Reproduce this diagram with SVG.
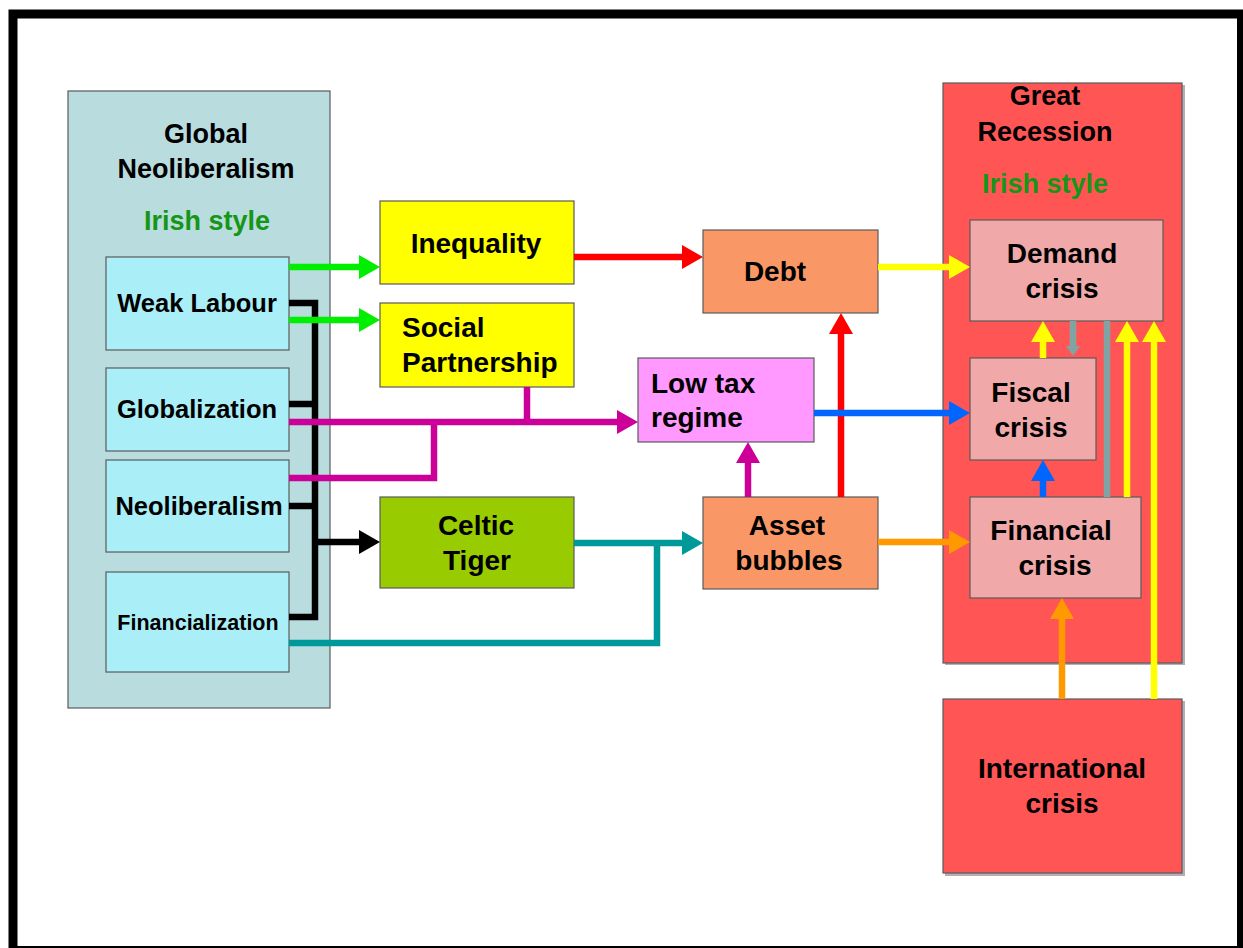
<svg xmlns="http://www.w3.org/2000/svg" width="1243" height="948" viewBox="0 0 1243 948">
<style>
.box{stroke:#5a5a5a;stroke-width:1.2}
.t{font-family:"Liberation Sans",Arial,sans-serif;font-weight:bold;fill:#000}
.c{text-anchor:middle}
.g{fill:#169616}
.ln{fill:none;stroke-width:6.5;stroke-linejoin:miter}
</style>
<defs>
<marker id="aG" markerUnits="userSpaceOnUse" markerWidth="22" markerHeight="24" refX="9" refY="12" orient="auto"><path d="M0,0 L21,12 L0,24 Z" fill="#00ee00"/></marker>
<marker id="aK" markerUnits="userSpaceOnUse" markerWidth="22" markerHeight="24" refX="9" refY="12" orient="auto"><path d="M0,0 L21,12 L0,24 Z" fill="#000"/></marker>
<marker id="aM" markerUnits="userSpaceOnUse" markerWidth="22" markerHeight="24" refX="9" refY="12" orient="auto"><path d="M0,0 L21,12 L0,24 Z" fill="#cc0099"/></marker>
<marker id="aT" markerUnits="userSpaceOnUse" markerWidth="22" markerHeight="24" refX="9" refY="12" orient="auto"><path d="M0,0 L21,12 L0,24 Z" fill="#009999"/></marker>
<marker id="aR" markerUnits="userSpaceOnUse" markerWidth="22" markerHeight="24" refX="9" refY="12" orient="auto"><path d="M0,0 L21,12 L0,24 Z" fill="#ff0000"/></marker>
<marker id="aY" markerUnits="userSpaceOnUse" markerWidth="22" markerHeight="24" refX="9" refY="12" orient="auto"><path d="M0,0 L21,12 L0,24 Z" fill="#ffff00"/></marker>
<marker id="aB" markerUnits="userSpaceOnUse" markerWidth="22" markerHeight="24" refX="9" refY="12" orient="auto"><path d="M0,0 L21,12 L0,24 Z" fill="#0066ff"/></marker>
<marker id="aO" markerUnits="userSpaceOnUse" markerWidth="22" markerHeight="24" refX="9" refY="12" orient="auto"><path d="M0,0 L21,12 L0,24 Z" fill="#ff9900"/></marker>
<marker id="aS" markerUnits="userSpaceOnUse" markerWidth="12" markerHeight="14" refX="4" refY="7" orient="auto"><path d="M0,0 L10,7 L0,14 Z" fill="#80a4a4"/></marker>
</defs>
<rect x="0" y="0" width="1243" height="948" fill="#fff"/>
<rect x="13" y="14" width="1228.5" height="936.5" fill="none" stroke="#000" stroke-width="9"/>

<g id="global-neoliberalism">
<rect class="box" x="68" y="91" width="262" height="617" fill="#b9dcdf"/>
<text class="t c" x="206" y="143" font-size="27">Global</text>
<text class="t c" x="206" y="178" font-size="27">Neoliberalism</text>
<text class="t c g" x="207" y="230" font-size="27">Irish style</text>
</g>
<g id="weak-labour">
<rect class="box" x="106" y="257" width="183" height="93" fill="#aaeff7"/>
<text class="t c" x="197" y="312" font-size="25.5">Weak Labour</text>
</g>
<g id="globalization">
<rect class="box" x="106" y="368" width="183" height="83" fill="#aaeff7"/>
<text class="t c" x="197" y="418" font-size="25.5">Globalization</text>
</g>
<g id="neoliberalism">
<rect class="box" x="106" y="460" width="183" height="92" fill="#aaeff7"/>
<text class="t c" x="199" y="515" font-size="25.5">Neoliberalism</text>
</g>
<g id="financialization">
<rect class="box" x="106" y="572" width="183" height="100" fill="#aaeff7"/>
<text class="t c" x="198" y="630" font-size="21.5">Financialization</text>
</g>

<g id="inequality">
<rect class="box" x="380" y="201" width="194" height="83" fill="#ffff00"/>
<text class="t c" x="476" y="253" font-size="28">Inequality</text>
</g>
<g id="social-partnership">
<rect class="box" x="380" y="303" width="194" height="84" fill="#ffff00"/>
<text class="t" x="402" y="337" font-size="28">Social</text>
<text class="t" x="402" y="372" font-size="28">Partnership</text>
</g>
<g id="celtic-tiger">
<rect class="box" x="380" y="497" width="194" height="91" fill="#99cc00"/>
<text class="t c" x="476" y="535" font-size="28">Celtic</text>
<text class="t c" x="477" y="570" font-size="28">Tiger</text>
</g>
<g id="low-tax-regime">
<rect class="box" x="638" y="358" width="176" height="84" fill="#ff99ff"/>
<text class="t" x="651" y="393" font-size="28">Low tax</text>
<text class="t" x="651" y="427" font-size="28">regime</text>
</g>
<g id="debt">
<rect class="box" x="703" y="230" width="175" height="83" fill="#f99866"/>
<text class="t c" x="775" y="281" font-size="28">Debt</text>
</g>
<g id="asset-bubbles">
<rect class="box" x="703" y="497" width="175" height="92" fill="#f99866"/>
<text class="t c" x="787" y="535" font-size="28">Asset</text>
<text class="t c" x="789" y="570" font-size="28">bubbles</text>
</g>

<g id="great-recession">
<rect x="945" y="85" width="240" height="580" fill="#b0b0b8"/>
<rect class="box" x="943" y="83" width="239" height="580" fill="#ff5555"/>
<text class="t c" x="1045" y="105" font-size="27">Great</text>
<text class="t c" x="1045" y="141" font-size="27">Recession</text>
<text class="t c g" x="1045" y="193" font-size="27">Irish style</text>
</g>
<g id="demand-crisis">
<rect class="box" x="970" y="220" width="193" height="101" fill="#f0a8a8"/>
<text class="t c" x="1062" y="263" font-size="28">Demand</text>
<text class="t c" x="1062" y="298" font-size="28">crisis</text>
</g>
<g id="fiscal-crisis">
<rect class="box" x="970" y="358" width="126" height="102" fill="#f0a8a8"/>
<text class="t c" x="1031" y="402" font-size="28">Fiscal</text>
<text class="t c" x="1031" y="437" font-size="28">crisis</text>
</g>
<g id="financial-crisis">
<rect class="box" x="970" y="497" width="171" height="101" fill="#f0a8a8"/>
<text class="t c" x="1051" y="540" font-size="28">Financial</text>
<text class="t c" x="1055" y="575" font-size="28">crisis</text>
</g>
<g id="international-crisis">
<rect x="945" y="701" width="240" height="175" fill="#b0b0b8"/>
<rect class="box" x="943" y="699" width="239" height="174" fill="#ff5555"/>
<text class="t c" x="1062" y="778" font-size="28">International</text>
<text class="t c" x="1062" y="813" font-size="28">crisis</text>
</g>

<g id="connectors">
<path class="ln" stroke="#000" d="M289,303 H315 V617 H289 M289,404 H315 M289,506 H315"/>
<path class="ln" stroke="#000" d="M315,542 H368" marker-end="url(#aK)"/>
<path class="ln" stroke="#00ee00" d="M289,267 H368" marker-end="url(#aG)"/>
<path class="ln" stroke="#00ee00" d="M289,320 H368" marker-end="url(#aG)"/>
<path class="ln" stroke="#cc0099" d="M289,478 H434 V422 M527,387 V422"/>
<path class="ln" stroke="#cc0099" d="M289,422 H626" marker-end="url(#aM)"/>
<path class="ln" stroke="#cc0099" d="M748,497 V454" marker-end="url(#aM)"/>
<path class="ln" stroke="#009999" d="M289,643 H657 V543"/>
<path class="ln" stroke="#009999" d="M574,543 H691" marker-end="url(#aT)"/>
<path class="ln" stroke="#ff0000" d="M574,257 H691" marker-end="url(#aR)"/>
<path class="ln" stroke="#ff0000" d="M841,497 V325" marker-end="url(#aR)"/>
<path class="ln" stroke="#ffff00" d="M878,267 H958" marker-end="url(#aY)"/>
<path class="ln" stroke="#0066ff" d="M814,413 H958" marker-end="url(#aB)"/>
<path class="ln" stroke="#ff9900" d="M878,542 H958" marker-end="url(#aO)"/>
<path class="ln" stroke="#ffff00" d="M1043,358 V333" marker-end="url(#aY)"/>
<path class="ln" stroke="#80a4a4" d="M1073,321 V350" marker-end="url(#aS)"/>
<path class="ln" stroke="#80a4a4" d="M1107,321 V497"/>
<path class="ln" stroke="#ffff00" d="M1127,497 V333" marker-end="url(#aY)"/>
<path class="ln" stroke="#ffff00" d="M1154,699 V333" marker-end="url(#aY)"/>
<path class="ln" stroke="#0066ff" d="M1043,497 V472" marker-end="url(#aB)"/>
<path class="ln" stroke="#ff9900" d="M1062,699 V610" marker-end="url(#aO)"/>
</g>
</svg>
